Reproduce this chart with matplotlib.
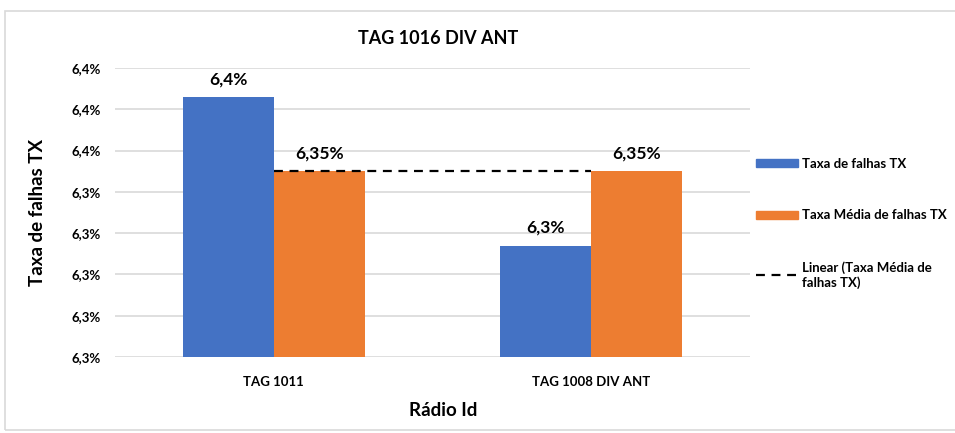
import matplotlib
matplotlib.use("Agg")
import matplotlib.pyplot as plt
from matplotlib.patches import Patch, Rectangle
from matplotlib.lines import Line2D

plt.rcParams['font.family'] = ['Lato', 'DejaVu Sans']

# dados
radios = ['TAG 1011', 'TAG 1008 DIV ANT']
taxa_falhas = [6.386, 6.314]
taxa_media = [6.35, 6.35]
y_ticks = [6.26, 6.28, 6.30, 6.32, 6.34, 6.36, 6.38, 6.40]

azul = '#4472C4'
laranja = '#ED7D31'

fig = plt.figure(figsize=(9.55, 4.33), dpi=100)
ax = fig.add_axes([115/955, 1-357/433, 635/955, 289/433])

# moldura do grafico
fig.patches.append(Rectangle((5/955, 3/433), 1.0, 1-14/433, transform=fig.transFigure,
                             fill=False, edgecolor='#D9D9D9', linewidth=1.2))

x = list(range(len(radios)))
w = 0.287
ax.bar([i - w/2 for i in x], taxa_falhas, w, color=azul, zorder=3)
ax.bar([i + w/2 for i in x], taxa_media, w, color=laranja, zorder=3)

# linha de tendencia
ax.plot(x, taxa_media, color='black', linestyle=(0, (4, 3)), linewidth=1.6, zorder=4)

for i in x:
    ax.annotate(f"{taxa_falhas[i]:.1f}%".replace('.', ','), (i - w/2, taxa_falhas[i]),
                xytext=(0, 7), textcoords='offset points', ha='center', va='bottom',
                fontsize=12.5, fontweight='bold')
    ax.annotate(f"{taxa_media[i]:.2f}%".replace('.', ','), (i + w/2, taxa_media[i]),
                xytext=(0, 7), textcoords='offset points', ha='center', va='bottom',
                fontsize=12.5, fontweight='bold')

ax.set_xlim(-0.5, 1.5)
ax.set_ylim(6.26, 6.40)
ax.set_yticks(y_ticks)
ax.set_yticklabels([f"{v:.1f}%".replace('.', ',') for v in y_ticks], fontsize=9.5, fontweight='bold')
ax.set_xticks(x)
ax.set_xticklabels(radios, fontsize=9.5, fontweight='bold')
ax.tick_params(axis='y', length=0, pad=10)
ax.tick_params(axis='x', length=0, pad=14)
ax.grid(axis='y', color='#D9D9D9', linewidth=1.2, zorder=0)
for s in ax.spines.values():
    s.set_visible(False)

fig.text(438/955, 1-38/433, 'TAG 1016 DIV ANT', ha='center', va='center',
         fontsize=13, fontweight='bold')
fig.text(38/955, 1-212/433, 'Taxa de falhas TX', ha='center', va='center',
         rotation=90, fontsize=13.5, fontweight='bold')
fig.text(443/955, 1-410/433, 'Rádio Id', ha='center', va='center',
         fontsize=13.5, fontweight='bold')

handles = [Patch(color=azul), Patch(color=laranja),
           Line2D([], [], color='black', linestyle=(0, (4, 3)), linewidth=1.6)]
labels = ['Taxa de falhas TX', 'Taxa Média de falhas TX', 'Linear (Taxa Média de\nfalhas TX)']
fig.legend(handles, labels, loc='upper left', bbox_to_anchor=(744/955, 1-146/433),
           frameon=False, handlelength=3.2, handleheight=0.6, handletextpad=0.3,
           labelspacing=3.0, prop={'size': 9.5, 'weight': 'bold'})

fig.savefig('out.png', dpi=100, facecolor='white')
